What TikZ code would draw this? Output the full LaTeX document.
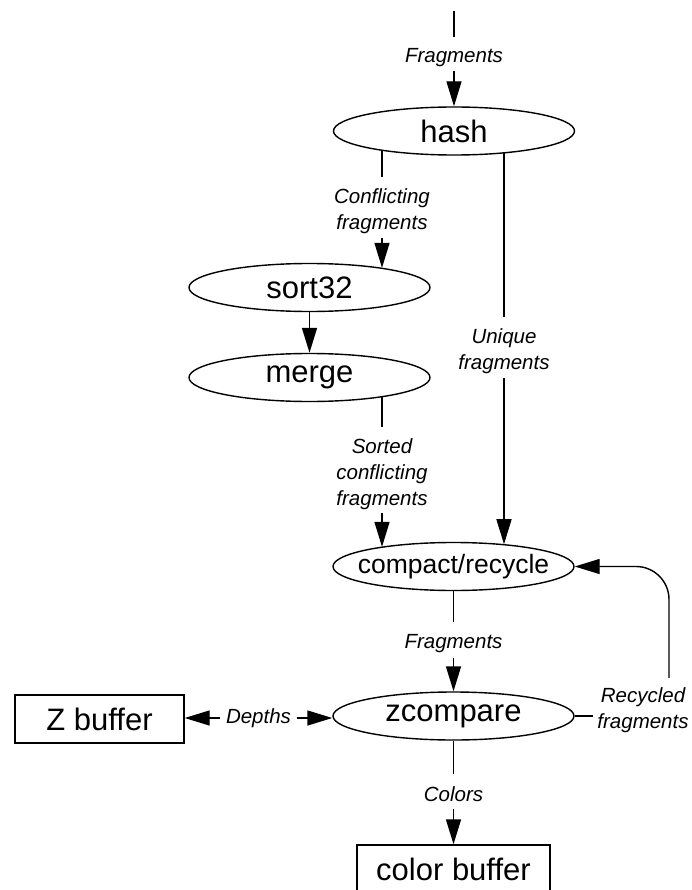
\documentclass[tikz,border=0pt]{standalone}
\usepackage{fontspec}
\setmainfont{Liberation Sans}
\usetikzlibrary{shapes.geometric,arrows.meta}

\begin{document}
\begin{tikzpicture}[x=1pt,y=-1pt,line width=1.4pt,
  proc/.style={draw,ellipse,minimum width=241pt,minimum height=48pt,
    inner xsep=-60pt,inner ysep=0pt,font=\fontsize{31}{36}\selectfont},
  store/.style={draw,rectangle,inner sep=0pt,font=\fontsize{31}{36}\selectfont},
  flow/.style={font=\fontsize{20.5}{26}\selectfont\itshape,align=center,inner sep=0pt},
  arr/.style={-{Triangle[length=25pt,width=15pt]}},
]
\useasboundingbox (0,0) rectangle (691,890);

% pipeline stages
\node[proc] (hash)  at (454,131)   {hash};
\node[proc] (sort)  at (309.5,287.5) {sort32};
\node[proc] (merge) at (309.5,377.5) {merge};
\node[proc,font=\fontsize{26.5}{32}\selectfont] (cr) at (453.5,566.5) {compact/recycle};
\node[proc] (zc)    at (453.5,716) {zcompare};

% buffers
\node[store,minimum width=169pt,minimum height=48pt] (zb) at (99.5,719) {Z buffer};
\node[store,minimum width=193pt,minimum height=48pt] (cb) at (453.5,869) {color buffer};

% flow labels (the line gaps sit 4pt above each label box)
\node[flow,minimum height=32pt] (f1) at (454,58)    {Fragments};
\node[flow,minimum height=59pt] (f2) at (382,211.5) {Conflicting\\fragments};
\node[flow,minimum height=59pt] (f3) at (504,351.5) {Unique\\fragments};
\node[flow,minimum height=84pt] (f4) at (382,474)   {Sorted\\conflicting\\fragments};
\node[flow,minimum height=34pt] (f5) at (453.5,644) {Fragments};
\node[flow,minimum height=33pt] (f6) at (453.5,794.5) {Colors};
\node[flow,inner xsep=5pt] (f7) at (258.5,718) {Depths};
\node[flow,inner xsep=4pt,inner ysep=7pt] (f8) at (643,710) {Recycled\\fragments};

\coordinate (src) at (454,11);
\coordinate (rx)  at (669,0);

% incoming fragments
\draw (src) -- ([yshift=4pt]f1.north);
\draw[arr] ([yshift=4pt]f1.south) -- (hash.north);

% conflicting branch
\draw (f2.north |- hash.195) -- ([yshift=4pt]f2.north);
\draw[arr] ([yshift=4pt]f2.south) -- (f2.south |- sort.15);
\draw[arr] (sort) -- (merge);
\draw (f4.north |- merge.345) -- ([yshift=4pt]f4.north);
\draw[arr] ([yshift=4pt]f4.south) -- (f4.south |- cr.165);

% unique branch
\draw (f3.north |- hash.336) -- ([yshift=4pt]f3.north);
\draw[arr] ([yshift=4pt]f3.south) -- (f3.south |- cr.23);

% compaction to depth test
\draw (cr.south -| f5) -- ([yshift=4pt]f5.north);
\draw[arr] ([yshift=4pt]f5.south) -- (zc.north -| f5);

% depth exchange
\draw[arr] (f7.west) -- (f7.west -| zb.east);
\draw[arr] (f7.east) -- (f7.east -| zc.west);

% colour output
\draw (zc.south -| f6) -- ([yshift=3pt]f6.north);
\draw[arr] ([yshift=3pt]f6.south) -- (cb.north -| f6);

% recycling loop
\draw (zc.east) -- (zc.east -| f8.west);
\draw[arr,rounded corners=33pt] ([yshift=2pt]f8.north -| rx) |- (cr.east);
\end{tikzpicture}
\end{document}
